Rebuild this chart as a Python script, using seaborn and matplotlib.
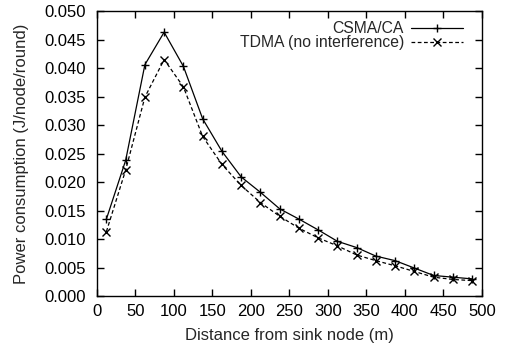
import matplotlib
matplotlib.use("Agg")
import matplotlib.pyplot as plt
import seaborn as sns
import pandas as pd

distance = [12.5, 37.5, 62.5, 87.5, 112.5, 137.5, 162.5, 187.5, 212.5, 237.5,
            262.5, 287.5, 312.5, 337.5, 362.5, 387.5, 412.5, 437.5, 462.5, 487.5]
csma = [0.0135, 0.0238, 0.0406, 0.0463, 0.0403, 0.0311, 0.0254, 0.0209, 0.0182, 0.0153,
        0.0135, 0.0116, 0.0096, 0.0085, 0.0070, 0.0062, 0.0049, 0.0036, 0.0033, 0.0030]
tdma = [0.0113, 0.0221, 0.0349, 0.0415, 0.0367, 0.0280, 0.0231, 0.0194, 0.0164, 0.0140,
        0.0119, 0.0102, 0.0088, 0.0072, 0.0062, 0.0053, 0.0043, 0.0033, 0.0029, 0.0027]
series_names = ["CSMA/CA", "TDMA (no interference)"]
xticks = [0, 50, 100, 150, 200, 250, 300, 350, 400, 450, 500]
yticks = [0.000, 0.005, 0.010, 0.015, 0.020, 0.025, 0.030, 0.035, 0.040, 0.045, 0.050]

df = pd.DataFrame({
    "distance": distance * 2,
    "value": csma + tdma,
    "series": [series_names[0]] * len(distance) + [series_names[1]] * len(distance),
})

sns.set_style("ticks")
plt.rcParams["font.family"] = ["Liberation Sans", "DejaVu Sans"]

fig = plt.figure(figsize=(5.12, 3.47), dpi=100)
ax = fig.add_axes([0.189, 0.147, 0.752, 0.821])

sns.lineplot(data=df, x="distance", y="value", hue="series", style="series",
             palette=["black", "black"], dashes=[(None, None), (3, 2)],
             markers=["+", "x"], markersize=5.5, markeredgewidth=1.0,
             markeredgecolor="black", markerfacecolor="black",
             linewidth=0.9, ax=ax, legend=True)

ax.set_xlim(0, 500)
ax.set_ylim(0, 0.050)
ax.set_xticks(xticks)
ax.set_yticks(yticks)
ax.set_xticklabels([str(t) for t in xticks])
ax.set_yticklabels([f"{t:.3f}" for t in yticks])
ax.tick_params(direction="in", top=True, right=True, length=5, width=1,
               labelsize=12, colors="black")
ax.tick_params(axis="y", pad=7.5)
ax.tick_params(axis="x", pad=5.5)
for s in ax.spines.values():
    s.set_linewidth(1.0)
    s.set_color("black")
ax.set_xlabel("Distance from sink node (m)", fontsize=12, labelpad=7)
ax.set_ylabel("Power consumption (J/node/round)", fontsize=12, labelpad=11)

handles, labels = ax.get_legend_handles_labels()
for h in handles:
    h.set_markeredgecolor("black")
leg = ax.legend(handles, labels, loc="upper right", frameon=False, markerfirst=False,
                fontsize=11.3, handlelength=3.3, handletextpad=0.45,
                borderaxespad=0, borderpad=0, labelspacing=-0.05,
                bbox_to_anchor=(1 - 19 / 385, 1 - 10 / 285))

fig.savefig("out.png", dpi=100)
